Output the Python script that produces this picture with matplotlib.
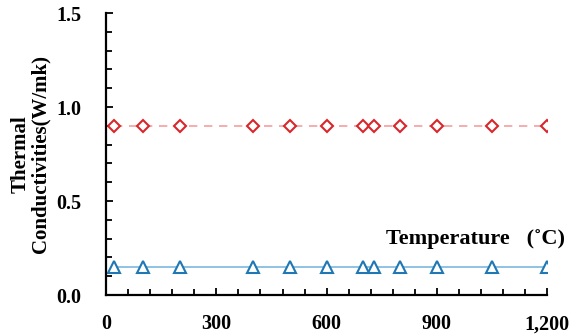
import matplotlib
matplotlib.use("Agg")
import matplotlib.pyplot as plt
from matplotlib.ticker import MultipleLocator, FuncFormatter

temperature = [20, 100, 200, 400, 500, 600, 700, 730, 800, 900, 1050, 1200]
upper_k = [0.9, 0.9, 0.9, 0.9, 0.9, 0.9, 0.9, 0.9, 0.9, 0.9, 0.9, 0.9]
lower_k = [0.15, 0.15, 0.15, 0.15, 0.15, 0.15, 0.15, 0.15, 0.15, 0.15, 0.15, 0.15]

plt.rcParams["font.family"] = "Liberation Serif"
plt.rcParams["font.weight"] = "bold"

fig = plt.figure(figsize=(5.71, 3.36), dpi=100)
ax = fig.add_axes([0.186, 0.122, 0.772, 0.839])

ax.plot(temperature, upper_k, color="#f4a0a0", ls=(0, (5, 4)), lw=1.2, zorder=1)
ax.plot(temperature, upper_k, ls="none", marker="D", ms=6.5, mfc="white",
        mec="#d9262a", mew=1.5, zorder=2)
ax.plot(temperature, lower_k, color="#7db8dd", lw=1.2, zorder=1)
ax.plot(temperature, lower_k, ls="none", marker="^", ms=8, mfc="white",
        mec="#1f77b4", mew=1.5, zorder=2)

ax.set_xlim(0, 1200)
ax.set_ylim(0, 1.5)
ax.xaxis.set_major_locator(MultipleLocator(300))
ax.xaxis.set_minor_locator(MultipleLocator(60))
ax.yaxis.set_major_locator(MultipleLocator(0.5))
ax.yaxis.set_minor_locator(MultipleLocator(0.1))
ax.xaxis.set_major_formatter(FuncFormatter(lambda v, p: f"{int(v):,}"))
ax.yaxis.set_major_formatter(FuncFormatter(lambda v, p: f"{v:.1f}"))
ax.tick_params(which="both", direction="in", width=1.3, labelsize=14.5, color="black")
ax.tick_params(which="major", length=5)
ax.tick_params(which="minor", length=4)
ax.tick_params(axis="x", which="major", pad=14)
ax.tick_params(axis="y", which="major", pad=18)

for side in ["top", "right"]:
    ax.spines[side].set_visible(False)
for side in ["left", "bottom"]:
    ax.spines[side].set_linewidth(1.6)

ax.set_ylabel("Thermal\nConductivities(W/mk)", fontsize=15, fontweight="bold",
              labelpad=4, linespacing=1.0)
fig.text(0.99, 0.289, "Temperature   (˚C)", ha="right", va="center",
         fontsize=16, fontweight="bold")

fig.savefig("out.png", dpi=100)
